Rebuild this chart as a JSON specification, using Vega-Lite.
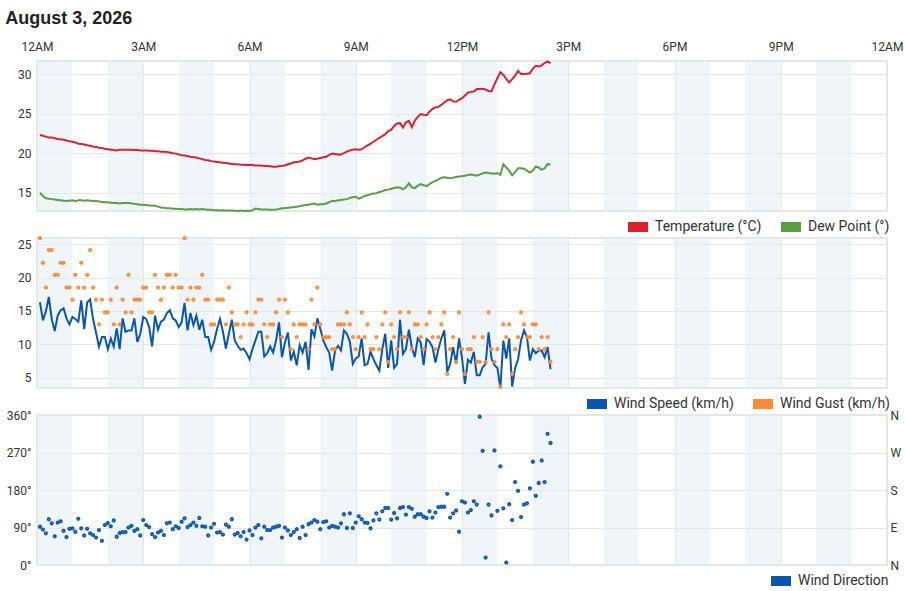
{
  "$schema": "https://vega.github.io/schema/vega-lite/v6.json",
  "padding": {"left": 5, "top": 10, "right": 0, "bottom": 0},
  "background": "white",
  "title": {
    "text": "August 3, 2026",
    "anchor": "start",
    "frame": "bounds",
    "font": "Liberation Sans",
    "fontSize": 18,
    "fontWeight": "bold",
    "color": "#222222",
    "offset": 11
  },
  "datasets": {
    "bands": [
      {"start": 0, "end": 60}, {"start": 120, "end": 180}, {"start": 240, "end": 300},
      {"start": 360, "end": 420}, {"start": 480, "end": 540}, {"start": 600, "end": 660},
      {"start": 720, "end": 780}, {"start": 840, "end": 900}, {"start": 960, "end": 1020},
      {"start": 1080, "end": 1140}, {"start": 1200, "end": 1260}, {"start": 1320, "end": 1380}
    ],
    "obs": [
      {"t": 5, "temp": 22.3, "dew": 15.0, "wspd": 16.3, "gust": 25.9, "wdir": 92},
      {"t": 10, "temp": 22.2, "dew": 14.6, "wspd": 13.6, "gust": 22.2, "wdir": 85},
      {"t": 15, "temp": 22.1, "dew": 14.3, "wspd": 14.9, "gust": 18.5, "wdir": 76},
      {"t": 20, "temp": 22.0, "dew": 14.25, "wspd": 17.1, "gust": 24.1, "wdir": 110},
      {"t": 25, "temp": 22.0, "dew": 14.2, "wspd": 13.8, "gust": 24.1, "wdir": 100},
      {"t": 30, "temp": 21.9, "dew": 14.15, "wspd": 12.0, "gust": 20.4, "wdir": 69},
      {"t": 35, "temp": 21.8, "dew": 14.1, "wspd": 14.3, "gust": 20.4, "wdir": 102},
      {"t": 40, "temp": 21.75, "dew": 14.05, "wspd": 15.1, "gust": 22.2, "wdir": 105},
      {"t": 45, "temp": 21.7, "dew": 14.0, "wspd": 15.4, "gust": 22.2, "wdir": 82},
      {"t": 50, "temp": 21.6, "dew": 13.95, "wspd": 13.9, "gust": 18.5, "wdir": 67},
      {"t": 55, "temp": 21.5, "dew": 14.0, "wspd": 13.0, "gust": 18.5, "wdir": 87},
      {"t": 60, "temp": 21.45, "dew": 14.05, "wspd": 14.1, "gust": 16.7, "wdir": 88},
      {"t": 65, "temp": 21.35, "dew": 13.95, "wspd": 13.8, "gust": 20.4, "wdir": 80},
      {"t": 70, "temp": 21.2, "dew": 14.05, "wspd": 13.4, "gust": 18.5, "wdir": 111},
      {"t": 75, "temp": 21.15, "dew": 14.05, "wspd": 16.6, "gust": 22.2, "wdir": 88},
      {"t": 80, "temp": 21.1, "dew": 14.0, "wspd": 12.3, "gust": 18.5, "wdir": 71},
      {"t": 85, "temp": 21.0, "dew": 14.05, "wspd": 16.3, "gust": 20.4, "wdir": 87},
      {"t": 90, "temp": 20.95, "dew": 14.0, "wspd": 16.7, "gust": 24.1, "wdir": 76},
      {"t": 95, "temp": 20.85, "dew": 13.95, "wspd": 13.8, "gust": 18.5, "wdir": 72},
      {"t": 100, "temp": 20.8, "dew": 13.95, "wspd": 11.8, "gust": 16.7, "wdir": 66},
      {"t": 105, "temp": 20.7, "dew": 13.9, "wspd": 9.7, "gust": 13.0, "wdir": 84},
      {"t": 110, "temp": 20.65, "dew": 13.85, "wspd": 11.1, "gust": 16.7, "wdir": 58},
      {"t": 115, "temp": 20.55, "dew": 13.8, "wspd": 11.1, "gust": 14.8, "wdir": 96},
      {"t": 120, "temp": 20.5, "dew": 13.8, "wspd": 9.3, "gust": 14.8, "wdir": 101},
      {"t": 125, "temp": 20.45, "dew": 13.75, "wspd": 10.9, "gust": 16.7, "wdir": 93},
      {"t": 130, "temp": 20.4, "dew": 13.7, "wspd": 9.7, "gust": 13.0, "wdir": 107},
      {"t": 135, "temp": 20.35, "dew": 13.7, "wspd": 12.4, "gust": 18.5, "wdir": 68},
      {"t": 140, "temp": 20.45, "dew": 13.65, "wspd": 9.3, "gust": 13.0, "wdir": 77},
      {"t": 145, "temp": 20.45, "dew": 13.7, "wspd": 13.9, "gust": 16.7, "wdir": 79},
      {"t": 150, "temp": 20.45, "dew": 13.7, "wspd": 11.9, "gust": 14.8, "wdir": 79},
      {"t": 155, "temp": 20.45, "dew": 13.7, "wspd": 12.1, "gust": 20.4, "wdir": 90},
      {"t": 160, "temp": 20.45, "dew": 13.65, "wspd": 12.1, "gust": 14.8, "wdir": 94},
      {"t": 165, "temp": 20.4, "dew": 13.6, "wspd": 13.9, "gust": 16.7, "wdir": 82},
      {"t": 170, "temp": 20.4, "dew": 13.55, "wspd": 10.4, "gust": 16.7, "wdir": 86},
      {"t": 175, "temp": 20.35, "dew": 13.5, "wspd": 11.6, "gust": 16.7, "wdir": 71},
      {"t": 180, "temp": 20.35, "dew": 13.5, "wspd": 14.1, "gust": 18.5, "wdir": 108},
      {"t": 185, "temp": 20.35, "dew": 13.45, "wspd": 13.8, "gust": 18.5, "wdir": 96},
      {"t": 190, "temp": 20.3, "dew": 13.4, "wspd": 12.6, "gust": 14.8, "wdir": 91},
      {"t": 195, "temp": 20.3, "dew": 13.4, "wspd": 9.7, "gust": 14.8, "wdir": 74},
      {"t": 200, "temp": 20.25, "dew": 13.35, "wspd": 14.3, "gust": 20.4, "wdir": 67},
      {"t": 205, "temp": 20.25, "dew": 13.25, "wspd": 12.2, "gust": 18.5, "wdir": 78},
      {"t": 210, "temp": 20.2, "dew": 13.15, "wspd": 13.4, "gust": 16.7, "wdir": 82},
      {"t": 215, "temp": 20.2, "dew": 13.1, "wspd": 13.7, "gust": 18.5, "wdir": 72},
      {"t": 220, "temp": 20.15, "dew": 13.05, "wspd": 14.7, "gust": 20.4, "wdir": 100},
      {"t": 225, "temp": 20.1, "dew": 13.05, "wspd": 15.1, "gust": 20.4, "wdir": 102},
      {"t": 230, "temp": 20.0, "dew": 13.0, "wspd": 13.9, "gust": 18.5, "wdir": 86},
      {"t": 235, "temp": 19.95, "dew": 13.0, "wspd": 13.6, "gust": 20.4, "wdir": 93},
      {"t": 240, "temp": 19.85, "dew": 12.95, "wspd": 12.6, "gust": 18.5, "wdir": 89},
      {"t": 245, "temp": 19.75, "dew": 12.95, "wspd": 13.3, "gust": 18.5, "wdir": 104},
      {"t": 250, "temp": 19.7, "dew": 12.9, "wspd": 16.2, "gust": 25.9, "wdir": 112},
      {"t": 255, "temp": 19.65, "dew": 12.9, "wspd": 12.1, "gust": 16.7, "wdir": 91},
      {"t": 260, "temp": 19.55, "dew": 12.95, "wspd": 14.7, "gust": 18.5, "wdir": 96},
      {"t": 265, "temp": 19.5, "dew": 12.9, "wspd": 12.9, "gust": 16.7, "wdir": 102},
      {"t": 270, "temp": 19.45, "dew": 12.95, "wspd": 14.3, "gust": 18.5, "wdir": 94},
      {"t": 275, "temp": 19.35, "dew": 12.9, "wspd": 12.2, "gust": 18.5, "wdir": 113},
      {"t": 280, "temp": 19.25, "dew": 12.95, "wspd": 13.7, "gust": 20.4, "wdir": 93},
      {"t": 285, "temp": 19.15, "dew": 12.9, "wspd": 11.1, "gust": 16.7, "wdir": 92},
      {"t": 290, "temp": 19.1, "dew": 12.85, "wspd": 11.1, "gust": 16.7, "wdir": 71},
      {"t": 295, "temp": 19.0, "dew": 12.85, "wspd": 9.2, "gust": 13.0, "wdir": 90},
      {"t": 300, "temp": 18.95, "dew": 12.8, "wspd": 10.4, "gust": 13.0, "wdir": 99},
      {"t": 305, "temp": 18.9, "dew": 12.8, "wspd": 12.3, "gust": 16.7, "wdir": 78},
      {"t": 310, "temp": 18.85, "dew": 12.75, "wspd": 13.8, "gust": 16.7, "wdir": 79},
      {"t": 315, "temp": 18.8, "dew": 12.8, "wspd": 11.9, "gust": 16.7, "wdir": 73},
      {"t": 320, "temp": 18.75, "dew": 12.75, "wspd": 9.4, "gust": 13.0, "wdir": 97},
      {"t": 325, "temp": 18.7, "dew": 12.75, "wspd": 11.6, "gust": 18.5, "wdir": 92},
      {"t": 330, "temp": 18.65, "dew": 12.75, "wspd": 13.7, "gust": 14.8, "wdir": 110},
      {"t": 335, "temp": 18.6, "dew": 12.72, "wspd": 10.6, "gust": 13.0, "wdir": 73},
      {"t": 340, "temp": 18.6, "dew": 12.7, "wspd": 9.8, "gust": 13.0, "wdir": 77},
      {"t": 345, "temp": 18.55, "dew": 12.75, "wspd": 9.2, "gust": 11.1, "wdir": 69},
      {"t": 350, "temp": 18.55, "dew": 12.7, "wspd": 9.4, "gust": 13.0, "wdir": 79},
      {"t": 355, "temp": 18.5, "dew": 12.72, "wspd": 8.7, "gust": 14.8, "wdir": 61},
      {"t": 360, "temp": 18.5, "dew": 12.7, "wspd": 7.8, "gust": 13.0, "wdir": 83},
      {"t": 365, "temp": 18.5, "dew": 12.8, "wspd": 9.3, "gust": 13.0, "wdir": 72},
      {"t": 370, "temp": 18.45, "dew": 13.0, "wspd": 10.6, "gust": 14.8, "wdir": 90},
      {"t": 375, "temp": 18.45, "dew": 12.95, "wspd": 11.9, "gust": 16.7, "wdir": 96},
      {"t": 380, "temp": 18.45, "dew": 12.9, "wspd": 11.9, "gust": 16.7, "wdir": 64},
      {"t": 385, "temp": 18.4, "dew": 12.9, "wspd": 8.2, "gust": 13.0, "wdir": 92},
      {"t": 390, "temp": 18.4, "dew": 12.88, "wspd": 8.7, "gust": 11.1, "wdir": 84},
      {"t": 395, "temp": 18.35, "dew": 12.85, "wspd": 9.7, "gust": 13.0, "wdir": 84},
      {"t": 400, "temp": 18.3, "dew": 12.87, "wspd": 8.8, "gust": 13.0, "wdir": 90},
      {"t": 405, "temp": 18.3, "dew": 12.9, "wspd": 10.6, "gust": 14.8, "wdir": 92},
      {"t": 410, "temp": 18.35, "dew": 12.95, "wspd": 13.3, "gust": 16.7, "wdir": 94},
      {"t": 415, "temp": 18.4, "dew": 13.05, "wspd": 8.1, "gust": 11.1, "wdir": 66},
      {"t": 420, "temp": 18.45, "dew": 13.05, "wspd": 10.3, "gust": 16.7, "wdir": 90},
      {"t": 425, "temp": 18.6, "dew": 13.1, "wspd": 11.8, "gust": 14.8, "wdir": 83},
      {"t": 430, "temp": 18.7, "dew": 13.15, "wspd": 7.6, "gust": 9.3, "wdir": 72},
      {"t": 435, "temp": 18.85, "dew": 13.2, "wspd": 8.9, "gust": 13.0, "wdir": 79},
      {"t": 440, "temp": 18.9, "dew": 13.25, "wspd": 6.9, "gust": 11.1, "wdir": 86},
      {"t": 445, "temp": 18.95, "dew": 13.3, "wspd": 9.9, "gust": 13.0, "wdir": 65},
      {"t": 450, "temp": 19.1, "dew": 13.4, "wspd": 8.8, "gust": 13.0, "wdir": 92},
      {"t": 455, "temp": 19.3, "dew": 13.45, "wspd": 10.4, "gust": 13.0, "wdir": 72},
      {"t": 460, "temp": 19.45, "dew": 13.5, "wspd": 6.2, "gust": 9.3, "wdir": 98},
      {"t": 465, "temp": 19.35, "dew": 13.6, "wspd": 12.3, "gust": 16.7, "wdir": 102},
      {"t": 470, "temp": 19.25, "dew": 13.65, "wspd": 11.2, "gust": 13.0, "wdir": 108},
      {"t": 475, "temp": 19.3, "dew": 13.5, "wspd": 13.9, "gust": 18.5, "wdir": 104},
      {"t": 480, "temp": 19.4, "dew": 13.55, "wspd": 12.3, "gust": 13.0, "wdir": 86},
      {"t": 485, "temp": 19.5, "dew": 13.55, "wspd": 10.6, "gust": 11.1, "wdir": 103},
      {"t": 490, "temp": 19.55, "dew": 13.65, "wspd": 9.6, "gust": 11.1, "wdir": 105},
      {"t": 495, "temp": 19.8, "dew": 13.8, "wspd": 8.8, "gust": 11.1, "wdir": 90},
      {"t": 500, "temp": 19.95, "dew": 14.0, "wspd": 6.1, "gust": 9.3, "wdir": 94},
      {"t": 505, "temp": 19.9, "dew": 13.95, "wspd": 9.1, "gust": 9.3, "wdir": 92},
      {"t": 510, "temp": 19.85, "dew": 14.05, "wspd": 9.8, "gust": 13.0, "wdir": 90},
      {"t": 515, "temp": 19.85, "dew": 14.1, "wspd": 9.1, "gust": 13.0, "wdir": 100},
      {"t": 520, "temp": 20.0, "dew": 14.15, "wspd": 12.1, "gust": 13.0, "wdir": 122},
      {"t": 525, "temp": 20.2, "dew": 14.2, "wspd": 11.6, "gust": 14.8, "wdir": 89},
      {"t": 530, "temp": 20.35, "dew": 14.35, "wspd": 10.4, "gust": 13.0, "wdir": 124},
      {"t": 535, "temp": 20.45, "dew": 14.45, "wspd": 7.1, "gust": 11.1, "wdir": 89},
      {"t": 540, "temp": 20.5, "dew": 14.5, "wspd": 7.9, "gust": 9.3, "wdir": 102},
      {"t": 545, "temp": 20.45, "dew": 14.25, "wspd": 8.2, "gust": 11.1, "wdir": 117},
      {"t": 550, "temp": 20.5, "dew": 14.4, "wspd": 10.9, "gust": 14.8, "wdir": 110},
      {"t": 555, "temp": 20.75, "dew": 14.6, "wspd": 6.9, "gust": 11.1, "wdir": 102},
      {"t": 560, "temp": 21.0, "dew": 14.7, "wspd": 7.1, "gust": 13.0, "wdir": 101},
      {"t": 565, "temp": 21.2, "dew": 14.8, "wspd": 8.9, "gust": 9.3, "wdir": 88},
      {"t": 570, "temp": 21.45, "dew": 14.9, "wspd": 7.8, "gust": 9.3, "wdir": 107},
      {"t": 575, "temp": 21.7, "dew": 14.95, "wspd": 6.9, "gust": 11.1, "wdir": 124},
      {"t": 580, "temp": 21.95, "dew": 15.1, "wspd": 6.1, "gust": 9.3, "wdir": 109},
      {"t": 585, "temp": 22.15, "dew": 15.2, "wspd": 9.3, "gust": 13.0, "wdir": 129},
      {"t": 590, "temp": 22.4, "dew": 15.35, "wspd": 11.6, "gust": 14.8, "wdir": 137},
      {"t": 595, "temp": 22.8, "dew": 15.4, "wspd": 6.5, "gust": 7.4, "wdir": 137},
      {"t": 600, "temp": 22.95, "dew": 15.5, "wspd": 10.6, "gust": 13.0, "wdir": 109},
      {"t": 605, "temp": 23.45, "dew": 15.6, "wspd": 6.5, "gust": 11.1, "wdir": 125},
      {"t": 610, "temp": 23.75, "dew": 15.7, "wspd": 7.1, "gust": 9.3, "wdir": 112},
      {"t": 615, "temp": 23.8, "dew": 15.65, "wspd": 13.7, "gust": 14.8, "wdir": 137},
      {"t": 620, "temp": 23.25, "dew": 15.45, "wspd": 8.6, "gust": 11.1, "wdir": 139},
      {"t": 625, "temp": 23.9, "dew": 15.7, "wspd": 9.3, "gust": 11.1, "wdir": 121},
      {"t": 630, "temp": 24.1, "dew": 16.2, "wspd": 12.2, "gust": 14.8, "wdir": 139},
      {"t": 635, "temp": 23.3, "dew": 15.7, "wspd": 9.6, "gust": 9.3, "wdir": 135},
      {"t": 640, "temp": 24.1, "dew": 15.6, "wspd": 8.1, "gust": 13.0, "wdir": 116},
      {"t": 645, "temp": 24.6, "dew": 15.9, "wspd": 10.9, "gust": 13.0, "wdir": 122},
      {"t": 650, "temp": 24.95, "dew": 16.1, "wspd": 10.3, "gust": 11.1, "wdir": 122},
      {"t": 655, "temp": 24.85, "dew": 15.95, "wspd": 6.9, "gust": 9.3, "wdir": 116},
      {"t": 660, "temp": 24.8, "dew": 15.85, "wspd": 10.8, "gust": 13.0, "wdir": 113},
      {"t": 665, "temp": 25.25, "dew": 16.1, "wspd": 10.4, "gust": 14.8, "wdir": 129},
      {"t": 670, "temp": 25.6, "dew": 16.35, "wspd": 9.6, "gust": 11.1, "wdir": 114},
      {"t": 675, "temp": 25.8, "dew": 16.5, "wspd": 7.3, "gust": 9.3, "wdir": 126},
      {"t": 680, "temp": 25.85, "dew": 16.7, "wspd": 9.3, "gust": 11.1, "wdir": 139},
      {"t": 685, "temp": 26.1, "dew": 16.9, "wspd": 10.9, "gust": 13.0, "wdir": 140},
      {"t": 690, "temp": 26.4, "dew": 16.95, "wspd": 12.1, "gust": 14.8, "wdir": 140},
      {"t": 695, "temp": 26.7, "dew": 16.9, "wspd": 5.9, "gust": 5.6, "wdir": 171},
      {"t": 700, "temp": 26.8, "dew": 16.85, "wspd": 7.1, "gust": 9.3, "wdir": 114},
      {"t": 705, "temp": 26.55, "dew": 16.9, "wspd": 9.6, "gust": 11.1, "wdir": 124},
      {"t": 710, "temp": 26.5, "dew": 17.0, "wspd": 7.1, "gust": 7.4, "wdir": 131},
      {"t": 715, "temp": 26.75, "dew": 17.05, "wspd": 10.9, "gust": 14.8, "wdir": 80},
      {"t": 720, "temp": 26.95, "dew": 17.1, "wspd": 8.0, "gust": 9.3, "wdir": 153},
      {"t": 725, "temp": 27.3, "dew": 17.15, "wspd": 4.1, "gust": 5.6, "wdir": 150},
      {"t": 730, "temp": 27.65, "dew": 17.25, "wspd": 7.7, "gust": 9.3, "wdir": 126},
      {"t": 735, "temp": 27.75, "dew": 17.3, "wspd": 7.3, "gust": 9.3, "wdir": 132},
      {"t": 740, "temp": 27.8, "dew": 17.25, "wspd": 8.9, "gust": 11.1, "wdir": 153},
      {"t": 745, "temp": 28.1, "dew": 17.15, "wspd": 5.4, "gust": 7.4, "wdir": 145},
      {"t": 750, "temp": 28.1, "dew": 17.3, "wspd": 5.4, "gust": 7.4, "wdir": 356},
      {"t": 755, "temp": 28.15, "dew": 17.45, "wspd": 6.6, "gust": 11.1, "wdir": 274},
      {"t": 760, "temp": 28.05, "dew": 17.55, "wspd": 7.1, "gust": 7.4, "wdir": 18},
      {"t": 765, "temp": 27.85, "dew": 17.5, "wspd": 11.8, "gust": 14.8, "wdir": 145},
      {"t": 770, "temp": 27.8, "dew": 17.45, "wspd": 7.9, "gust": 9.3, "wdir": 119},
      {"t": 775, "temp": 28.7, "dew": 17.4, "wspd": 6.9, "gust": 7.4, "wdir": 275},
      {"t": 780, "temp": 29.5, "dew": 17.5, "wspd": 6.5, "gust": 9.3, "wdir": 130},
      {"t": 785, "temp": 30.25, "dew": 17.25, "wspd": 3.5, "gust": 3.7, "wdir": 237},
      {"t": 790, "temp": 29.9, "dew": 18.6, "wspd": 10.6, "gust": 13.0, "wdir": 136},
      {"t": 795, "temp": 29.4, "dew": 18.2, "wspd": 7.9, "gust": 11.1, "wdir": 6},
      {"t": 800, "temp": 28.95, "dew": 17.8, "wspd": 10.9, "gust": 13.0, "wdir": 146},
      {"t": 805, "temp": 29.35, "dew": 17.2, "wspd": 3.7, "gust": 5.6, "wdir": 108},
      {"t": 810, "temp": 29.8, "dew": 17.6, "wspd": 6.5, "gust": 9.3, "wdir": 199},
      {"t": 815, "temp": 30.4, "dew": 18.1, "wspd": 7.8, "gust": 11.1, "wdir": 178},
      {"t": 820, "temp": 30.0, "dew": 18.1, "wspd": 10.6, "gust": 14.8, "wdir": 115},
      {"t": 825, "temp": 30.0, "dew": 18.05, "wspd": 12.1, "gust": 13.0, "wdir": 145},
      {"t": 830, "temp": 30.05, "dew": 17.8, "wspd": 11.1, "gust": 11.1, "wdir": 148},
      {"t": 835, "temp": 30.1, "dew": 17.55, "wspd": 7.6, "gust": 11.1, "wdir": 184},
      {"t": 840, "temp": 30.7, "dew": 17.8, "wspd": 9.3, "gust": 13.0, "wdir": 248},
      {"t": 845, "temp": 31.05, "dew": 18.3, "wspd": 8.7, "gust": 13.0, "wdir": 166},
      {"t": 850, "temp": 30.95, "dew": 18.2, "wspd": 9.1, "gust": 9.3, "wdir": 197},
      {"t": 855, "temp": 31.1, "dew": 17.9, "wspd": 9.1, "gust": 11.1, "wdir": 251},
      {"t": 860, "temp": 31.4, "dew": 18.1, "wspd": 8.1, "gust": 9.3, "wdir": 199},
      {"t": 865, "temp": 31.6, "dew": 18.65, "wspd": 9.6, "gust": 11.1, "wdir": 315},
      {"t": 870, "temp": 31.35, "dew": 18.55, "wspd": 6.3, "gust": 7.4, "wdir": 293}
    ]
  },
  "bounds": "flush",
  "spacing": 27,
  "resolve": {
    "scale": {"x": "independent", "y": "independent", "color": "independent"},
    "legend": {"color": "independent"}
  },
  "vconcat": [
    {
      "width": 850,
      "height": 150,
      "layer": [
        {
          "data": {"name": "bands"},
          "mark": {"type": "rect", "color": "#e2ecf6", "opacity": 0.5},
          "encoding": {
            "x": {
              "field": "start",
              "type": "quantitative",
              "title": null,
              "scale": {"domain": [0, 1440], "nice": false, "zero": false},
              "axis": {
                "orient": "top",
                "values": [0, 180, 360, 540, 720, 900, 1080, 1260, 1440],
                "tickCount": 9,
                "labelExpr": "['12AM','3AM','6AM','9AM','12PM','3PM','6PM','9PM','12AM'][datum.value / 180]",
                "labelPadding": 8,
                "labelFlush": false,
                "grid": true
              }
            },
            "x2": {"field": "end"}
          }
        },
        {
          "data": {"name": "obs"},
          "mark": {"type": "line", "strokeWidth": 2},
          "encoding": {
            "x": {"field": "t", "type": "quantitative", "title": null},
            "y": {
              "field": "temp",
              "type": "quantitative",
              "title": null,
              "scale": {"domain": [12.7, 31.65], "nice": false, "zero": false},
              "axis": {"values": [15, 20, 25, 30], "tickCount": 4, "grid": true, "labelPadding": 6}
            },
            "color": {
              "datum": "Temperature (°C)",
              "type": "nominal",
              "scale": {"domain": ["Temperature (°C)", "Dew Point (°)"], "range": ["#d9222f", "#5a9e47"]},
              "legend": {"title": null, "legendX": 586, "legendY": 151}
            }
          }
        },
        {
          "data": {"name": "obs"},
          "mark": {"type": "line", "strokeWidth": 2},
          "encoding": {
            "x": {"field": "t", "type": "quantitative", "title": null},
            "y": {"field": "dew", "type": "quantitative", "title": null},
            "color": {"datum": "Dew Point (°)", "type": "nominal"}
          }
        }
      ]
    },
    {
      "width": 850,
      "height": 150,
      "layer": [
        {
          "data": {"name": "bands"},
          "mark": {"type": "rect", "color": "#e2ecf6", "opacity": 0.5},
          "encoding": {
            "x": {
              "field": "start",
              "type": "quantitative",
              "title": null,
              "scale": {"domain": [0, 1440], "nice": false, "zero": false},
              "axis": {
                "orient": "top",
                "values": [0, 180, 360, 540, 720, 900, 1080, 1260, 1440],
                "tickCount": 9,
                "labels": false,
                "grid": true
              }
            },
            "x2": {"field": "end"}
          }
        },
        {
          "data": {"name": "obs"},
          "mark": {"type": "line", "strokeWidth": 2},
          "encoding": {
            "x": {"field": "t", "type": "quantitative", "title": null},
            "y": {
              "field": "wspd",
              "type": "quantitative",
              "title": null,
              "scale": {"domain": [3.5, 25.9], "nice": false, "zero": false},
              "axis": {"values": [5, 10, 15, 20, 25], "tickCount": 5, "grid": true, "labelPadding": 6}
            },
            "color": {
              "datum": "Wind Speed (km/h)",
              "type": "nominal",
              "scale": {"domain": ["Wind Speed (km/h)", "Wind Gust (km/h)"], "range": ["#0a55b0", "#ff8a33"]},
              "legend": {"title": null, "legendX": 545, "legendY": 151}
            }
          }
        },
        {
          "data": {"name": "obs"},
          "mark": {"type": "point", "shape": "circle", "filled": false, "size": 3, "strokeWidth": 2.4, "opacity": 1},
          "encoding": {
            "x": {"field": "t", "type": "quantitative", "title": null},
            "y": {"field": "gust", "type": "quantitative", "title": null},
            "color": {"datum": "Wind Gust (km/h)", "type": "nominal"}
          }
        }
      ]
    },
    {
      "width": 850,
      "height": 150,
      "resolve": {"axis": {"y": "independent"}},
      "layer": [
        {
          "data": {"name": "bands"},
          "mark": {"type": "rect", "color": "#e2ecf6", "opacity": 0.5},
          "encoding": {
            "x": {
              "field": "start",
              "type": "quantitative",
              "title": null,
              "scale": {"domain": [0, 1440], "nice": false, "zero": false},
              "axis": {
                "orient": "top",
                "values": [0, 180, 360, 540, 720, 900, 1080, 1260, 1440],
                "tickCount": 9,
                "labels": false,
                "grid": true
              }
            },
            "x2": {"field": "end"},
            "y": {
              "datum": 0,
              "type": "quantitative",
              "title": null,
              "scale": {"domain": [0, 360], "nice": false, "zero": false},
              "axis": {
                "orient": "right",
                "values": [0, 90, 180, 270, 360],
                "tickCount": 5,
                "labelExpr": "['N','E','S','W','N'][datum.value / 90]",
                "grid": false,
                "labelPadding": 3
              }
            },
            "y2": {"datum": 360}
          }
        },
        {
          "data": {"name": "obs"},
          "mark": {"type": "point", "shape": "circle", "filled": false, "size": 3, "strokeWidth": 2.4, "opacity": 1},
          "encoding": {
            "x": {"field": "t", "type": "quantitative", "title": null},
            "y": {
              "field": "wdir",
              "type": "quantitative",
              "title": null,
              "axis": {
                "orient": "left",
                "values": [0, 90, 180, 270, 360],
                "tickCount": 5,
                "labelExpr": "datum.value + '°'",
                "grid": true,
                "labelPadding": 6
              }
            },
            "color": {
              "datum": "Wind Direction",
              "type": "nominal",
              "scale": {"domain": ["Wind Direction"], "range": ["#0a55b0"]},
              "legend": {"title": null, "legendX": 729, "legendY": 151}
            }
          }
        }
      ]
    }
  ],
  "config": {
    "view": {"stroke": "#e6e6e6", "strokeWidth": 2},
    "axis": {
      "gridColor": "#e6e6e6",
      "gridWidth": 1,
      "ticks": false,
      "domain": false,
      "labelOverlap": false,
      "labelFont": "Roboto",
      "labelFontSize": 12,
      "labelColor": "#333333"
    },
    "legend": {
      "orient": "none",
      "direction": "horizontal",
      "symbolType": "stroke",
      "symbolSize": 400,
      "symbolStrokeWidth": 10,
      "labelFont": "Roboto",
      "labelFontSize": 14,
      "labelColor": "#333333",
      "labelOffset": 2,
      "columnPadding": -1,
      "padding": 0
    }
  }
}
